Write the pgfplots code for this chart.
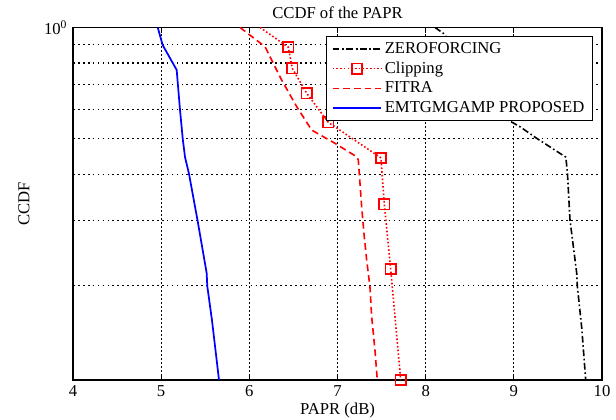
\documentclass[border=0pt]{standalone}
\usepackage{fontspec}
\setmainfont{Liberation Serif}
\usepackage{pgfplots}
\pgfplotsset{compat=1.18}
\begin{document}
\fontsize{12.5}{14}\selectfont
\begin{tikzpicture}
\begin{semilogyaxis}[
  scale only axis,
  width=396.75pt, height=264.4pt,
  xmin=4, xmax=10, ymin=0.1107, ymax=1,
  xtick={4,5,6,7,8,9,10},
  ytick={1}, yticklabels={10\textsuperscript{0}},
  minor ytick={0.2,0.3,0.4,0.5,0.6,0.7,0.8,0.9},
  /pgf/number format/assume math mode=true,
  tick label style={font=\fontsize{12.5}{14}\selectfont},
  tick align=inside,
  major tick length=4pt, minor tick length=0pt,
  axis line style={line width=1pt},
  tick style={black, line width=0.8pt},
  xmajorgrids, yminorgrids,
  major grid style={black, line width=0.6pt, dash pattern=on 1.5pt off 1.5pt},
  minor grid style={black, line width=1.1pt, dash pattern=on 1.3pt off 2.4pt},
  every axis title shift=0pt,
  title={CCDF of the PAPR},
  title style={at={(0.5,1.0426)}, anchor=center, font=\fontsize{12.5}{14}\selectfont},
  xlabel={PAPR (dB)},
  xlabel style={at={(0.5,-0.0851)}, anchor=center, font=\fontsize{12.5}{14}\selectfont},
  ylabel={CCDF},
  ylabel style={at={(-0.0926,0.5)}, anchor=center, font=\fontsize{12.5}{14}\selectfont},
  legend style={at={(1,1)}, anchor=north east, xshift=-6.75pt, yshift=-6.4pt,
    draw=black, line width=1pt, fill=white, font=\fontsize{12.5}{14}\selectfont,
    row sep=0.6pt, inner xsep=4pt, inner ysep=2pt},
  legend cell align=left,
  legend image code/.code={\draw[#1, mark indices={2}]
    plot coordinates {(0cm,0cm) (0.64cm,0cm) (1.28cm,0cm)};},
]
\addplot[black, line width=1.2pt, dash pattern=on 5pt off 2pt on 1.2pt off 2pt] coordinates {
(8.106,1.0) (8.200,0.9644) (8.503,0.791) (8.730,0.644) (8.900,0.567)
(9.070,0.538) (9.259,0.5006) (9.590,0.445) (9.608,0.403) (9.637,0.3005)
(9.713,0.2158) (9.720,0.199) (9.770,0.1535) (9.815,0.1107)};
\addlegendentry{ZEROFORCING}

\addplot[red, line width=1.2pt, dash pattern=on 1.2pt off 1.6pt,
  mark=square, mark size=3.8pt, mark indices={2,3,4,5,6,7,8,9},
  mark options={solid, line width=1.2pt}] coordinates {
(6.121,1.0) (6.442,0.884) (6.487,0.775) (6.651,0.663) (6.896,0.553)
(7.493,0.443) (7.531,0.3315) (7.603,0.2213) (7.717,0.1107)};
\addlegendentry{Clipping}

\addplot[red, line width=1.2pt, dash pattern=on 5pt off 3pt] coordinates {
(5.894,1.0) (6.178,0.887) (6.215,0.851) (6.367,0.720) (6.537,0.610)
(6.707,0.527) (6.972,0.485) (7.218,0.446) (7.236,0.437) (7.255,0.378)
(7.274,0.3266) (7.300,0.2765) (7.331,0.234) (7.368,0.198) (7.388,0.164)
(7.425,0.1334) (7.451,0.1107)};
\addlegendentry{FITRA}

\addplot[blue, line width=1.3pt] coordinates {
(4.961,1.0) (5.017,0.896) (5.176,0.767) (5.214,0.597) (5.244,0.501)
(5.270,0.446) (5.316,0.4006) (5.414,0.2986) (5.516,0.2158) (5.523,0.199)
(5.576,0.161) (5.656,0.1107)};
\addlegendentry{EMTGMGAMP PROPOSED}
\end{semilogyaxis}
\pgfresetboundingbox
\path[use as bounding box] ([xshift=-54.75pt,yshift=-30pt]current axis.south west)
  rectangle ([xshift=10.5pt,yshift=20.6pt]current axis.north east);
\end{tikzpicture}
\end{document}
